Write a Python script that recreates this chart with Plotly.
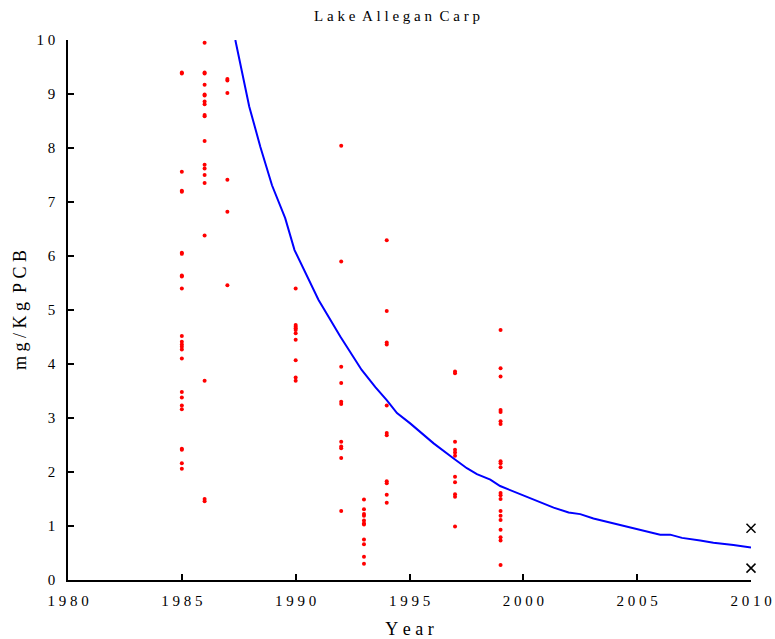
import plotly.graph_objects as go

# PCB concentrations (mg/kg) in carp samples, by sampling year
pcb_1985 = [9.38, 9.40, 7.56, 7.19, 7.21, 6.04, 6.06, 5.62, 5.64, 5.40, 4.52, 4.41, 4.36,
            4.32, 4.27, 4.10, 3.48, 3.38, 3.23, 3.16, 2.43, 2.41, 2.16, 2.06]
pcb_1986 = [9.95, 9.38, 9.40, 9.17, 8.97, 8.99, 8.86, 8.81, 8.59, 8.61, 8.13, 7.69, 7.62,
            7.50, 7.35, 6.38, 3.69, 1.46, 1.50]
pcb_1987 = [9.25, 9.28, 9.02, 7.41, 6.82, 5.46]
pcb_1990 = [5.40, 4.72, 4.69, 4.66, 4.63, 4.57, 4.45, 4.07, 3.75, 3.69]
pcb_1992 = [8.04, 5.90, 3.95, 3.65, 3.26, 3.30, 2.56, 2.47, 2.44, 2.26, 1.28]
pcb_1993 = [1.49, 1.31, 1.22, 1.19, 1.10, 1.03, 1.05, 0.75, 0.66, 0.43, 0.30]
pcb_1994 = [6.29, 4.98, 4.36, 4.40, 3.23, 2.68, 2.72, 1.79, 1.83, 1.58, 1.43]
pcb_1997 = [3.83, 3.86, 2.56, 2.41, 2.36, 2.30, 1.91, 1.81, 1.59, 1.54, 0.99]
pcb_1999 = [4.63, 3.92, 3.77, 3.15, 3.11, 2.94, 2.89, 2.20, 2.16, 2.09, 1.61, 1.57,
            1.50, 1.28, 1.19, 1.11, 0.93, 0.79, 0.73, 0.28]

sample_years = [1985, 1986, 1987, 1990, 1992, 1993, 1994, 1997, 1999]
sample_values = [pcb_1985, pcb_1986, pcb_1987, pcb_1990, pcb_1992,
                 pcb_1993, pcb_1994, pcb_1997, pcb_1999]

# Fitted decline curve
trend_year = [1987.35, 1987.96, 1988.45, 1988.96, 1989.54, 1989.95, 1991.0, 1991.96,
              1992.9, 1993.5, 1994.0, 1994.45, 1995.03, 1995.55, 1996.06, 1996.94,
              1997.52, 1997.96, 1998.55, 1998.98, 1999.57, 2000.45, 2001.33, 2001.99,
              2002.5, 2003.08, 2003.67, 2004.55, 2005.28, 2006.01, 2006.45, 2006.97,
              2007.77, 2008.35, 2009.23, 2010.0]
trend_pcb = [10.0, 8.77, 8.02, 7.31, 6.70, 6.11, 5.19, 4.51, 3.89, 3.57, 3.33, 3.09,
             2.90, 2.72, 2.53, 2.25, 2.07, 1.96, 1.86, 1.74, 1.64, 1.48, 1.34, 1.25,
             1.22, 1.14, 1.08, 0.99, 0.91, 0.84, 0.84, 0.78, 0.73, 0.69, 0.65, 0.60]

# Projected values for 2010
proj_year = [2010, 2010]
proj_pcb = [0.96, 0.22]

x_ticks = [1980, 1985, 1990, 1995, 2000, 2005, 2010]
y_ticks = list(range(0, 11))


def spaced(text):
    """Open up letter spacing the way the original typesetting does."""
    words = text.split(" ")
    return "\u2005 ".join("\u2005".join(w) for w in words)


xs, ys = [], []
for yr, vals in zip(sample_years, sample_values):
    xs += [yr] * len(vals)
    ys += vals

font_family = "Liberation Serif, Times New Roman, serif"

fig = go.Figure()
fig.add_trace(go.Scatter(
    x=xs, y=ys, mode="markers",
    marker=dict(color="#ff0000", size=4, line=dict(width=0)),
    showlegend=False, cliponaxis=False,
))
fig.add_trace(go.Scatter(
    x=trend_year, y=trend_pcb, mode="lines",
    line=dict(color="#0000ff", width=2),
    showlegend=False,
))
fig.add_trace(go.Scatter(
    x=proj_year, y=proj_pcb, mode="markers",
    marker=dict(symbol="x-thin", size=9, line=dict(color="black", width=1.5)),
    showlegend=False, cliponaxis=False,
))

fig.update_layout(
    width=775, height=639,
    margin=dict(l=68, r=24, t=40, b=59, autoexpand=False),
    paper_bgcolor="white", plot_bgcolor="white",
    font=dict(family=font_family, size=15, color="black"),
    title=dict(text=spaced("Lake Allegan Carp"), x=397 / 775, xref="container",
               xanchor="center", y=1 - 16 / 639, yref="container",
               yanchor="middle", font=dict(size=15)),
)

fig.update_xaxes(
    range=[1980, 2010], tickvals=x_ticks, ticktext=[spaced(str(t)) for t in x_ticks],
    showgrid=False, zeroline=False, showline=True, linecolor="black", linewidth=1.5,
    ticks="inside", ticklen=6, tickwidth=1.5, tickcolor="black",
    ticklabelstandoff=6, automargin=False,
    title=dict(text=spaced("Year"), standoff=18),
)
fig.update_yaxes(
    range=[0, 10], tickvals=y_ticks, ticktext=[spaced(str(t)) for t in y_ticks],
    showgrid=False, zeroline=False, showline=True, linecolor="black", linewidth=1.5,
    ticks="inside", ticklen=6, tickwidth=1.5, tickcolor="black",
    ticklabelstandoff=8, automargin=False,
    title=dict(text=spaced("mg/Kg PCB"), standoff=5),
)

fig.write_html("out.html")
